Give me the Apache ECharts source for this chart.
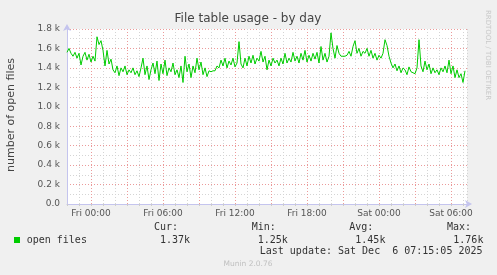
<!DOCTYPE html>
<html><head><meta charset="utf-8">
<script src="https://cdn.jsdelivr.net/npm/echarts@6/dist/echarts.min.js"></script>
<style>html,body{margin:0;padding:0;background:#f0f0f0}#c{width:497px;height:275px}</style>
</head><body><div id="c"></div>
<script>
// time in hours relative to Fri 00:00; one sample every 10 minutes
const startHour = -2;
const stepHours = 1 / 6;
const endHour = 31.333;
// open files, in thousands
const openFiles = [
  1.56,1.60,1.55,1.52,1.56,1.50,1.55,1.43,1.52,1.56,
  1.48,1.54,1.46,1.52,1.47,1.72,1.64,1.68,1.58,1.42,
  1.58,1.44,1.49,1.38,1.35,1.42,1.32,1.40,1.36,1.42,
  1.33,1.38,1.35,1.40,1.33,1.37,1.31,1.40,1.50,1.33,
  1.42,1.28,1.38,1.45,1.34,1.47,1.27,1.44,1.34,1.48,
  1.32,1.40,1.36,1.45,1.33,1.38,1.30,1.42,1.25,1.52,
  1.36,1.44,1.30,1.42,1.35,1.50,1.38,1.46,1.33,1.40,
  1.31,1.37,1.36,1.37,1.37,1.42,1.40,1.48,1.42,1.50,
  1.40,1.47,1.43,1.50,1.41,1.45,1.67,1.44,1.40,1.50,
  1.42,1.52,1.45,1.53,1.44,1.50,1.47,1.57,1.46,1.52,
  1.38,1.48,1.42,1.50,1.45,1.48,1.42,1.50,1.44,1.55,
  1.45,1.50,1.46,1.56,1.47,1.52,1.45,1.55,1.48,1.58,
  1.46,1.53,1.47,1.55,1.49,1.56,1.45,1.62,1.48,1.55,
  1.46,1.52,1.76,1.60,1.50,1.63,1.55,1.52,1.52,1.52,
  1.53,1.57,1.52,1.62,1.68,1.55,1.60,1.52,1.57,1.55,
  1.60,1.52,1.58,1.50,1.55,1.48,1.53,1.50,1.55,1.69,
  1.63,1.52,1.45,1.40,1.44,1.37,1.42,1.35,1.40,1.38,
  1.33,1.41,1.36,1.38,1.34,1.40,1.69,1.42,1.36,1.47,
  1.38,1.44,1.34,1.40,1.35,1.38,1.33,1.40,1.36,1.42,
  1.35,1.48,1.34,1.42,1.30,1.38,1.30,1.34,1.25,1.37
];
const xTickHours = [0, 6, 12, 18, 24, 30];
const xTickLabels = ['Fri 00:00', 'Fri 06:00', 'Fri 12:00', 'Fri 18:00', 'Sat 00:00', 'Sat 06:00'];
const statHeaders = ['Cur:', 'Min:', 'Avg:', 'Max:'];
const statValues = ['1.37k', '1.25k', '1.45k', '1.76k'];
const seriesName = 'open files';
const lastUpdate = 'Last update: Sat Dec  6 07:15:05 2025';

const data = openFiles.map((v, i) => [startHour + i * stepHours, v * 1000]);
const G = '#d4d4d4', R = '#eb9a9a';
const mono = '10px "DejaVu Sans Mono"';
const headerX = [154, 251.7, 349.3, 447];
const valueX = [160, 257.7, 355.3, 453.3];

const chart = echarts.init(document.getElementById('c'), null, {renderer: 'canvas'});
chart.setOption({
  animation: false,
  backgroundColor: '#f0f0f0',
  grid: {left: 67, right: 30, top: 29, bottom: 71, show: true, backgroundColor: '#ffffff', borderWidth: 0},
  xAxis: {
    type: 'value', min: startHour, max: endHour, interval: 1,
    axisLine: {show: true, onZero: false, lineStyle: {color: '#c4c4ee'}, symbol: ['none', 'arrow'], symbolSize: [6, 7], symbolOffset: [0, 5]},
    axisTick: {show: true, length: 2, lineStyle: {color: '#cccccc'}},
    axisLabel: {
      color: '#555', fontSize: 9, fontFamily: 'DejaVu Sans', margin: 5, showMinLabel: true, showMaxLabel: true,
      formatter: v => { const k = xTickHours.findIndex(h => Math.abs(h - v) < 1e-6); return k >= 0 ? xTickLabels[k] : ''; }
    },
    splitLine: {show: true, lineStyle: {color: [G, G, R], type: [1, 2], width: 1}}
  },
  yAxis: {
    type: 'value', min: 0, max: 1800, interval: 200,
    axisLine: {show: true, onZero: false, lineStyle: {color: '#c4c4ee'}, symbol: ['none', 'arrow'], symbolSize: [6, 7], symbolOffset: [0, 5]},
    axisTick: {show: false},
    axisLabel: {color: '#555', fontSize: 9, fontFamily: 'DejaVu Sans', margin: 7,
      formatter: v => v === 0 ? '0.0' : (v / 1000).toFixed(1) + ' k'},
    splitLine: {show: true, lineStyle: {color: R, type: [1, 2], width: 1}},
    minorTick: {show: false, splitNumber: 2},
    minorSplitLine: {show: true, lineStyle: {color: G, type: [1, 2], width: 1}}
  },
  series: [{
    type: 'line', name: seriesName, data: data, showSymbol: false, symbol: 'none',
    lineStyle: {color: '#00cc00', width: 1}, z: 5
  }],
  graphic: [
    {type: 'text', x: 248, y: 19, style: {text: 'File table usage - by day', font: '12px "DejaVu Sans"', fill: '#444', align: 'center', verticalAlign: 'middle'}},
    {type: 'text', x: 11, y: 115, rotation: Math.PI / 2, style: {text: 'number of open files', font: '11px "DejaVu Sans"', fill: '#444', align: 'center', verticalAlign: 'middle'}},
    {type: 'text', x: 488, y: 55, rotation: -Math.PI / 2, style: {text: 'RRDTOOL / TOBI OETIKER', font: '7px "DejaVu Sans"', fill: '#c8c8c8', align: 'center', verticalAlign: 'middle'}},
    {type: 'rect', shape: {x: 14, y: 237, width: 6, height: 6}, style: {fill: '#00cc00'}},
    {type: 'text', x: 26.7, y: 240, style: {text: seriesName, font: mono, fill: '#333', verticalAlign: 'middle'}},
    ...statHeaders.map((t, i) => ({type: 'text', x: headerX[i], y: 227.3, style: {text: t, font: mono, fill: '#333', verticalAlign: 'middle'}})),
    ...statValues.map((t, i) => ({type: 'text', x: valueX[i], y: 240, style: {text: t, font: mono, fill: '#333', verticalAlign: 'middle'}})),
    {type: 'text', x: 482.5, y: 251.7, style: {text: lastUpdate, font: mono, fill: '#333', align: 'right', verticalAlign: 'middle'}},
    {type: 'text', x: 248, y: 264, style: {text: 'Munin 2.0.76', font: '7.5px "DejaVu Sans"', fill: '#c0c0c0', align: 'center', verticalAlign: 'middle'}}
  ]
});
</script></body></html>
